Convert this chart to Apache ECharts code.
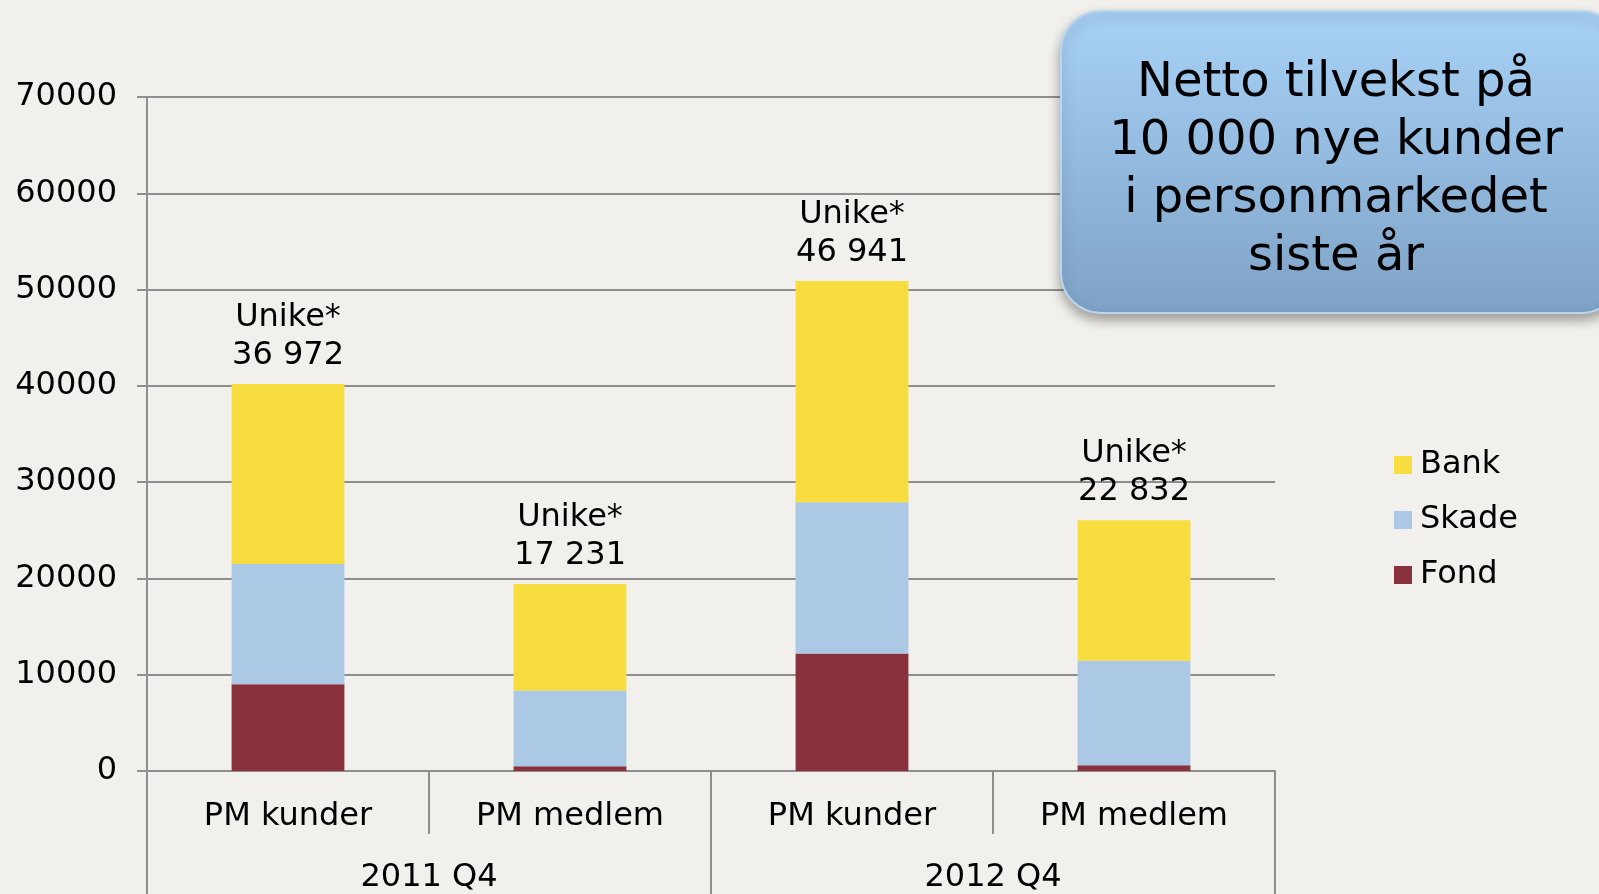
<!DOCTYPE html>
<html>
<head>
<meta charset="utf-8">
<script src="https://cdn.jsdelivr.net/npm/echarts@6/dist/echarts.min.js"></script>
<style>
  html, body { margin: 0; padding: 0; background: #f2f0ec; }
  #chart { width: 1599px; height: 894px; }
</style>
</head>
<body>
<div id="chart"></div>
<script>
const categories = ['PM kunder', 'PM medlem', 'PM kunder', 'PM medlem'];
const periods = ['2011 Q4', '2012 Q4'];
const fond = [9000, 500, 12200, 600];
const skade = [12500, 7850, 15700, 10850];
const bank = [18700, 11070, 23000, 14600];
const unike = ['36 972', '17 231', '46 941', '22 832'];
const boxText = 'Netto tilvekst på\n10 000 nye kunder\ni personmarkedet\nsiste år';

const font = 'DejaVu Sans';
const axisGray = '#8e8e8e';

const chart = echarts.init(document.getElementById('chart'));

const option = {
  backgroundColor: '#f2f0ec',
  animation: false,
  textStyle: { fontFamily: font },
  grid: { left: 147, right: 324, top: 97, bottom: 123 },
  legend: {
    orient: 'vertical',
    left: 1389,
    top: 444,
    data: ['Bank', 'Skade', 'Fond'],
    icon: 'rect',
    itemWidth: 18,
    itemHeight: 18,
    itemGap: 23,
    textStyle: { fontFamily: font, fontSize: 32, color: '#000', padding: [0, 0, 0, 3] }
  },
  xAxis: [
    {
      type: 'category',
      position: 'bottom',
      data: categories,
      axisLine: { lineStyle: { color: axisGray, width: 2 } },
      axisTick: { show: true, interval: 0, length: 63, lineStyle: { color: axisGray, width: 2 } },
      axisLabel: { interval: 0, fontFamily: font, fontSize: 32, color: '#000', margin: 30, lineHeight: 32 }
    },
    {
      type: 'category',
      position: 'bottom',
      data: periods,
      axisLine: { show: false },
      axisTick: { show: true, interval: 0, length: 130, lineStyle: { color: axisGray, width: 2 } },
      axisLabel: { interval: 0, fontFamily: font, fontSize: 32, color: '#000', margin: 91, lineHeight: 32 }
    }
  ],
  yAxis: {
    type: 'value',
    min: 0,
    max: 70000,
    interval: 10000,
    axisLine: { show: true, lineStyle: { color: axisGray, width: 2 } },
    axisTick: { show: true, length: 10, lineStyle: { color: axisGray, width: 2 } },
    splitLine: { lineStyle: { color: axisGray, width: 2 } },
    axisLabel: {
      fontFamily: font, fontSize: 32, color: '#000', margin: 30,
      padding: [6, 0, 0, 0],
      formatter: v => String(v)
    }
  },
  series: [
    {
      name: 'Fond', type: 'bar', stack: 'total', barWidth: '40%',
      data: fond, itemStyle: { color: '#89323d' }
    },
    {
      name: 'Skade', type: 'bar', stack: 'total', barWidth: '40%',
      data: skade, itemStyle: { color: '#abc9e5' }
    },
    {
      name: 'Bank', type: 'bar', stack: 'total', barWidth: '40%',
      data: bank, itemStyle: { color: '#f7dd40' },
      label: {
        show: true,
        position: 'top',
        distance: 9,
        align: 'center',
        formatter: p => 'Unike*\n' + unike[p.dataIndex],
        fontFamily: font,
        fontSize: 32,
        lineHeight: 38,
        color: '#000'
      }
    }
  ],
  graphic: [
    {
      type: 'rect',
      z: 100,
      shape: { x: 1061, y: 11, width: 560, height: 302, r: 40 },
      style: {
        fill: new echarts.graphic.LinearGradient(0, 0, 0, 1, [
          { offset: 0, color: '#a8d2f7' },
          { offset: 1, color: '#7ea2c6' }
        ]),
        stroke: '#b9d6ef',
        lineWidth: 2,
        shadowBlur: 12,
        shadowOffsetY: 6,
        shadowColor: 'rgba(0,0,0,0.35)'
      }
    },
    {
      type: 'text',
      z: 101,
      x: 1336,
      y: 171,
      style: {
        text: boxText,
        font: '48px "DejaVu Sans"',
        lineHeight: 58,
        fill: '#000',
        align: 'center',
        verticalAlign: 'middle'
      }
    }
  ]
};

chart.setOption(option);
</script>
</body>
</html>
